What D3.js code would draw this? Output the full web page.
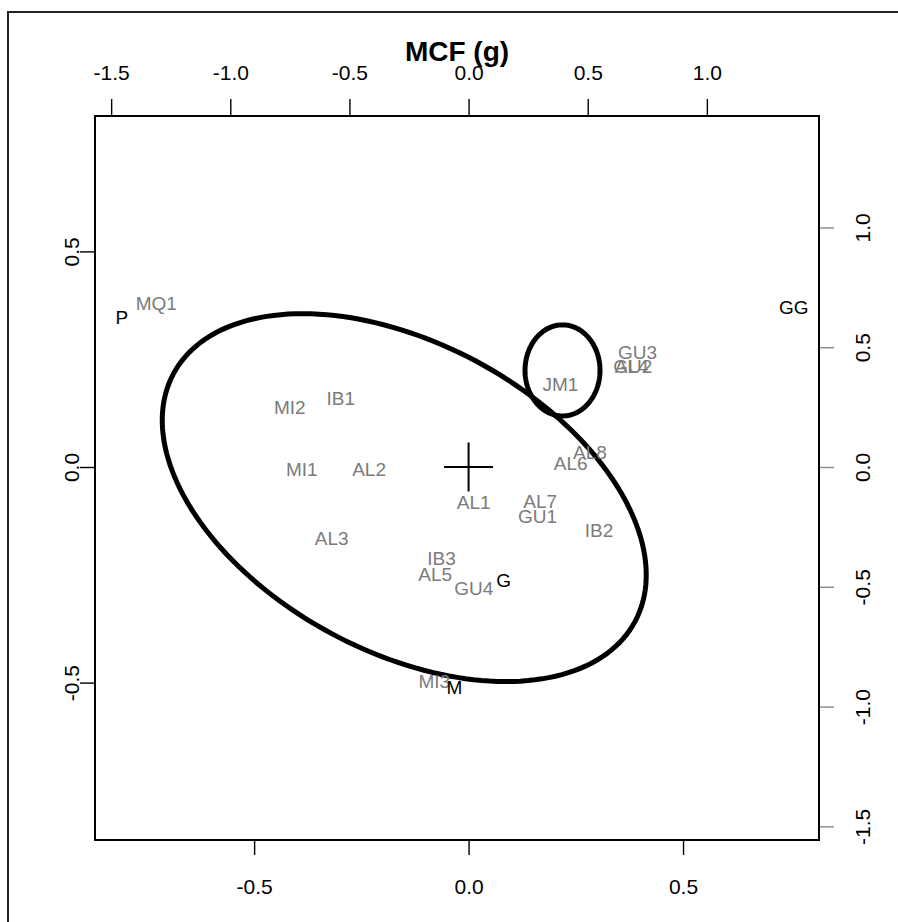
<!DOCTYPE html>
<html>
<head>
<meta charset="utf-8">
<script src="https://cdn.jsdelivr.net/npm/d3@7"></script>
<style>
body { margin: 0; background: #fff; }
svg text { font-family: "Liberation Sans", Arial, sans-serif; }
</style>
</head>
<body>
<svg id="chart" width="898" height="922"></svg>
<script>
// row scores (grey), primary axes
var rowNames = ['MQ1','MI2','IB1','MI1','AL2','AL3','AL1','IB3','AL5','GU4','MI3','JM1','GU3','AL4','GU2','AL8','AL6','AL7','GU1','IB2']
var rowX = [-0.728,-0.417,-0.298,-0.389,-0.232,-0.319,0.012,-0.063,-0.078,0.012,-0.080,0.214,0.394,0.380,0.383,0.283,0.238,0.167,0.161,0.304]
var rowY = [0.379,0.139,0.159,-0.006,-0.006,-0.165,-0.081,-0.211,-0.249,-0.280,-0.497,0.191,0.267,0.234,0.234,0.035,0.010,-0.080,-0.115,-0.146]

// column scores (black), secondary axes
var colNames = ['P','G','M','GG']
var colX = [-1.455,0.147,-0.059,1.365]
var colY = [0.627,-0.472,-0.919,0.668]

var xlim = [-0.871, 0.817]
var ylim = [-0.865, 0.814]
var ratio = 1.8

var ticksBottom = [-0.5, 0, 0.5]
var ticksLeft = [-0.5, 0, 0.5]
var ticksTop = [-1.5, -1, -0.5, 0, 0.5, 1]
var ticksRight = [-1.5, -1, -0.5, 0, 0.5, 1]

// ellipses: centre, semi axes, rotation (degrees)
var ellCx = [-0.150, 0.219]
var ellCy = [-0.071, 0.224]
var ellA = [0.610, 0.0874]
var ellB = [0.358, 0.1056]
var ellAngle = [-28, 0]

var margin = { top: 116, right: 79, bottom: 82, left: 95 }
var width = 898 - margin.left - margin.right,
    height = 922 - margin.top - margin.bottom

var svg = d3.select('#chart')

// outer frame
svg.append('rect')
    .attr('x', 8).attr('y', 12)
    .attr('width', 1000).attr('height', 1000)
    .attr('fill', 'none').attr('stroke', '#222').attr('stroke-width', 2)

var g = svg.append('g')
    .attr('transform', 'translate(' + margin.left + ',' + margin.top + ')')

var x = d3.scaleLinear().domain(xlim).range([0, width])
var y = d3.scaleLinear().domain(ylim).range([height, 0])
var x2 = d3.scaleLinear().domain(xlim.map(function (d) { return d * ratio })).range([0, width])
var y2 = d3.scaleLinear().domain(ylim.map(function (d) { return d * ratio })).range([height, 0])

var fmt = function (d) { return d.toFixed(1) }

function styleAxis(sel, col) {
    sel.select('.domain').remove()
    sel.selectAll('line').attr('stroke', col).attr('stroke-width', 1.4)
    sel.selectAll('text')
        .attr('fill', '#000')
        .style('font-size', '21px')
        .style('font-family', '"Liberation Sans", Arial, sans-serif')
}

// bottom
g.append('g')
    .attr('transform', 'translate(0,' + height + ')')
    .call(d3.axisBottom(x).tickValues(ticksBottom).tickSize(15).tickPadding(24).tickFormat(fmt))
    .call(styleAxis, '#000')

// top
g.append('g')
    .call(d3.axisTop(x2).tickValues(ticksTop).tickSize(17).tickPadding(19).tickFormat(fmt))
    .call(styleAxis, '#000')

// left, labels turned
g.append('g')
    .call(d3.axisLeft(y).tickValues(ticksLeft).tickSize(15).tickFormat(fmt))
    .call(styleAxis, '#000')
    .selectAll('text')
    .attr('x', null).attr('dy', null)
    .attr('text-anchor', 'middle')
    .attr('transform', 'translate(-16,0) rotate(-90)')

// right, labels turned
g.append('g')
    .attr('transform', 'translate(' + width + ',0)')
    .call(d3.axisRight(y2).tickValues(ticksRight).tickSize(15).tickFormat(fmt))
    .call(styleAxis, '#888')
    .selectAll('text')
    .attr('x', null).attr('dy', null)
    .attr('text-anchor', 'middle')
    .attr('transform', 'translate(51,0) rotate(-90)')

// box
g.append('rect')
    .attr('width', width).attr('height', height)
    .attr('fill', 'none').attr('stroke', '#000').attr('stroke-width', 2)

// title
svg.append('text')
    .attr('x', margin.left + width / 2).attr('y', 61)
    .attr('text-anchor', 'middle')
    .style('font-size', '28px').style('font-weight', 'bold')
    .text('MCF (g)')

// ellipses
var line = d3.line()
    .x(function (d) { return x(d[0]) })
    .y(function (d) { return y(d[1]) })
    .curve(d3.curveLinearClosed)

ellCx.forEach(function (cx, i) {
    var th = ellAngle[i] * Math.PI / 180
    var pts = d3.range(0, 180).map(function (k) {
        var t = k / 180 * 2 * Math.PI
        var px = ellA[i] * Math.cos(t), py = ellB[i] * Math.sin(t)
        return [cx + px * Math.cos(th) - py * Math.sin(th), ellCy[i] + px * Math.sin(th) + py * Math.cos(th)]
    })
    g.append('path')
        .attr('d', line(pts))
        .attr('fill', 'none').attr('stroke', '#000').attr('stroke-width', 5)
})

// centre cross
var arm = 0.057
g.append('path')
    .attr('d', 'M' + x(-arm) + ',' + y(0) + 'H' + x(arm) + 'M' + x(0) + ',' + y(arm) + 'V' + y(-arm))
    .attr('stroke', '#000').attr('stroke-width', 2)

// row labels
g.selectAll('.row')
    .data(rowNames)
    .enter()
    .append('text')
    .attr('class', 'row')
    .attr('x', function (d, i) { return x(rowX[i]) })
    .attr('y', function (d, i) { return y(rowY[i]) })
    .attr('dy', '0.36em')
    .attr('text-anchor', 'middle')
    .attr('fill', '#7b7b7b')
    .style('font-size', '19px')
    .text(function (d) { return d })

// column labels
g.selectAll('.col')
    .data(colNames)
    .enter()
    .append('text')
    .attr('class', 'col')
    .attr('x', function (d, i) { return x2(colX[i]) })
    .attr('y', function (d, i) { return y2(colY[i]) })
    .attr('dy', '0.36em')
    .attr('text-anchor', 'middle')
    .attr('fill', '#000')
    .style('font-size', '19px')
    .text(function (d) { return d })
</script>
</body>
</html>
